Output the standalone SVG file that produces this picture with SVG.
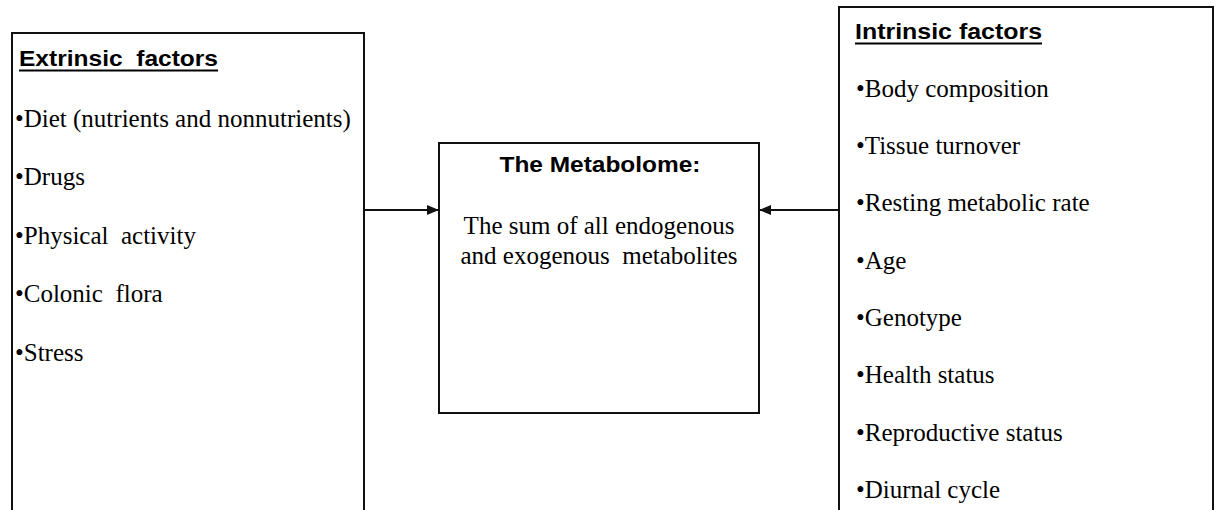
<svg xmlns="http://www.w3.org/2000/svg" width="1218" height="510" viewBox="0 0 1218 510">
  <style>
    .box { fill: #fff; stroke: #111; stroke-width: 2; }
    .head { font-family: "Liberation Sans", Arial, sans-serif; font-weight: bold; font-size: 22px; fill: #000; }
    .rule { stroke: #000; stroke-width: 2; }
    .item { font-family: "Liberation Serif", "Times New Roman", serif; font-size: 25px; fill: #000; }
    .link { stroke: #111; stroke-width: 2; fill: none; }
  </style>
  <defs>
    <marker id="arrow" viewBox="0 0 12 10" refX="12" refY="5" markerWidth="12" markerHeight="10" markerUnits="userSpaceOnUse" orient="auto">
      <path d="M0,0 L12,5 L0,10 Z" fill="#111"/>
    </marker>
  </defs>
  <rect width="1218" height="510" fill="#fff"/>

  <!-- Extrinsic factors -->
  <g id="extrinsic">
    <rect class="box" x="12" y="33" width="352" height="490"/>
    <text class="head" x="19" y="66" textLength="199" lengthAdjust="spacingAndGlyphs" xml:space="preserve">Extrinsic  factors</text>
    <line class="rule" x1="19" y1="70.5" x2="218" y2="70.5"/>
    <text class="item" x="15" y="127">•Diet (nutrients and nonnutrients)</text>
    <text class="item" x="15" y="185">•Drugs</text>
    <text class="item" x="15" y="244" xml:space="preserve">•Physical  activity</text>
    <text class="item" x="15" y="302" xml:space="preserve">•Colonic  flora</text>
    <text class="item" x="15" y="361">•Stress</text>
  </g>

  <!-- Metabolome -->
  <g id="metabolome">
    <rect class="box" x="439" y="143" width="320" height="270"/>
    <text class="head" x="600" y="172" text-anchor="middle" textLength="201" lengthAdjust="spacingAndGlyphs">The Metabolome:</text>
    <text class="item" x="599" y="234" text-anchor="middle">The sum of all endogenous</text>
    <text class="item" x="599" y="264" text-anchor="middle" xml:space="preserve">and exogenous  metabolites</text>
  </g>

  <!-- Intrinsic factors -->
  <g id="intrinsic">
    <rect class="box" x="839" y="7" width="374" height="516"/>
    <text class="head" x="855" y="38.5" textLength="187" lengthAdjust="spacingAndGlyphs">Intrinsic factors</text>
    <line class="rule" x1="855" y1="43.5" x2="1042" y2="43.5"/>
    <text class="item" x="856" y="97">•Body composition</text>
    <text class="item" x="856" y="154">•Tissue turnover</text>
    <text class="item" x="856" y="211">•Resting metabolic rate</text>
    <text class="item" x="856" y="269">•Age</text>
    <text class="item" x="856" y="326">•Genotype</text>
    <text class="item" x="856" y="383">•Health status</text>
    <text class="item" x="856" y="441">•Reproductive status</text>
    <text class="item" x="856" y="498">•Diurnal cycle</text>
  </g>

  <!-- Connectors -->
  <g id="connectors">
    <line class="link" x1="364" y1="210" x2="439" y2="210" marker-end="url(#arrow)"/>
    <line class="link" x1="839" y1="210" x2="759" y2="210" marker-end="url(#arrow)"/>
  </g>
</svg>
